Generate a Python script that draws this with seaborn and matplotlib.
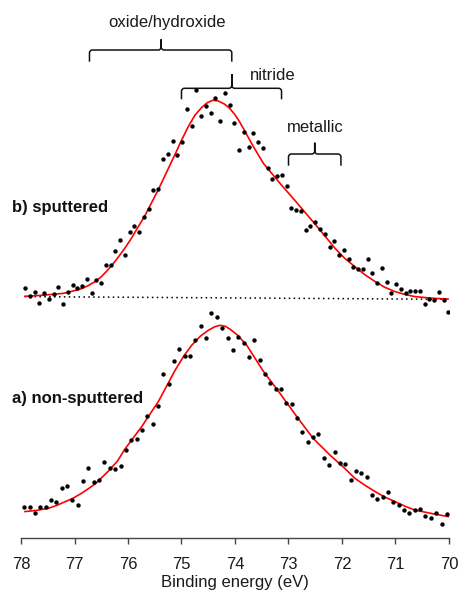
import numpy as np
import pandas as pd
import matplotlib
matplotlib.use("Agg")
import matplotlib.pyplot as plt
from matplotlib.path import Path
from matplotlib.patches import PathPatch
import seaborn as sns

# ---------------------------------------------------------------- data
# b) sputtered: acquisition grid and measured intensities (a.u.)
energy_b = np.linspace(77.925, 70.01, 90)
counts_b = [9.0, 1.3, 5.0, -5.3, 4.0, -1.3, 3.0, 10.0, -6.7, 5.0,
            12.0, 9.3, 11.3, 18.0, 4.0, 17.3, 14.3, 32.7, 32.7, 46.3,
            57.7, 42.3, 65.7, 71.7, 65.3, 80.7, 88.0, 107.3, 108.0, 138.3,
            143.3, 156.3, 142.3, 155.0, 188.0, 171.7, 207.3, 181.3, 191.0, 184.0,
            199.0, 176.7, 204.7, 192.0, 174.0, 147.3, 165.7, 150.3, 164.7, 155.7,
            149.3, 129.0, 118.7, 121.0, 122.3, 111.0, 89.0, 87.3, 86.7, 67.3,
            71.7, 75.7, 68.0, 63.7, 50.7, 56.7, 42.7, 47.0, 38.3, 30.0,
            28.3, 28.7, 38.3, 24.0, 14.3, 29.3, 15.0, 4.0, 13.0, 8.7,
            4.3, 6.7, 6.0, 6.0, -6.7, -2.0, -2.7, 5.0, -2.7, -14.4]

# b) fitted envelope
fit_energy_b = [77.93, 77.6, 77.2, 76.9, 76.75, 76.62, 76.5, 76.4, 76.24, 76.06,
                75.96, 75.68, 75.43, 75.12, 75.0, 74.87, 74.75, 74.62, 74.52, 74.42,
                74.32, 74.19, 74.1, 74.0, 73.92, 73.84, 73.66, 73.47, 73.16, 72.85,
                72.47, 72.13, 71.95, 71.76, 71.57, 71.38, 71.2, 71.01, 70.82, 70.64,
                70.3, 70.01]
fit_b = [1.0, 2.0, 4.0, 8.0, 11.5, 15.5, 20.5, 26.0, 36.0, 49.0,
         57.0, 82.0, 108.0, 143.0, 157.0, 171.0, 182.0, 190.0, 194.5, 197.0,
         196.5, 193.0, 189.0, 182.5, 176.0, 168.5, 151.0, 134.0, 114.0, 95.0,
         71.0, 49.0, 39.0, 30.7, 22.5, 15.7, 10.0, 5.7, 2.8, 0.7,
         -1.0, -1.7]

# b) linear background
bg_energy_b = [77.93, 70.01]
bg_b = [0.7, -2.0]

# a) non-sputtered: acquisition grid and measured intensities (a.u.)
energy_a = np.linspace(77.94, 70.04, 80)
counts_a = [6.0, 6.0, 0.0, 6.0, 6.7, 13.0, 11.0, 25.0, 27.0, 13.0,
            8.0, 32.0, 45.0, 31.0, 33.7, 51.3, 45.0, 44.0, 47.3, 63.7,
            73.3, 74.7, 83.7, 97.7, 89.7, 107.7, 139.3, 129.0, 152.3, 164.3,
            157.3, 157.3, 173.7, 187.0, 175.7, 200.0, 196.0, 185.3, 175.7, 163.3,
            176.3, 170.7, 156.3, 173.7, 153.3, 139.0, 130.0, 124.7, 124.0, 110.7,
            109.7, 95.7, 81.7, 71.7, 76.7, 79.7, 55.3, 48.3, 61.3, 50.7,
            49.3, 33.0, 42.0, 40.0, 36.3, 18.3, 14.0, 16.7, 21.0, 11.0,
            8.0, 3.3, 0.7, 3.0, 4.7, -2.3, -4.3, 0.3, -10.3, -1.0]

# a) fitted envelope
fit_energy_a = [77.93, 77.7, 77.49, 77.35, 77.2, 77.03, 76.87, 76.73, 76.6, 76.37,
                76.2, 76.06, 75.74, 75.43, 75.12, 74.96, 74.81, 74.65, 74.5, 74.38,
                74.28, 74.18, 74.09, 73.95, 73.78, 73.47, 73.16, 72.85, 72.54, 72.22,
                71.95, 71.76, 71.57, 71.38, 71.2, 71.01, 70.82, 70.64, 70.3, 70.01]
fit_a = [1.7, 3.0, 5.0, 7.5, 11.0, 15.0, 20.0, 25.0, 30.0, 42.0,
         52.0, 64.0, 87.0, 112.0, 143.0, 157.0, 168.0, 177.0, 183.0, 186.5,
         188.0, 187.0, 184.0, 178.0, 168.0, 142.0, 120.0, 97.0, 75.0, 58.0,
         45.0, 35.0, 28.0, 21.7, 16.2, 11.7, 7.0, 3.3, -0.5, -3.3]

# chemical-state regions: (label, high-BE end, low-BE end, centre)
regions = ["oxide/hydroxide", "nitride", "metallic"]
region_hi = [76.72, 75.00, 73.00]
region_lo = [74.06, 73.13, 72.02]
region_mid = [75.38, 74.06, 72.51]

xticks = [78, 77, 76, 75, 74, 73, 72, 71, 70]
spectrum_labels = ["b) sputtered", "a) non-sputtered"]

# ---------------------------------------------------------------- style
sns.set_theme(style="white")
plt.rcParams["font.family"] = ["Liberation Sans", "DejaVu Sans"]
plt.rcParams["font.size"] = 12

offset_b = 240.7
offset_a = 24.7

df_b = pd.DataFrame({"E": energy_b, "I": np.asarray(counts_b) + offset_b})
df_a = pd.DataFrame({"E": energy_a, "I": np.asarray(counts_a) + offset_a})
fit_df_b = pd.DataFrame({"E": fit_energy_b, "I": np.asarray(fit_b) + offset_b})
fit_df_a = pd.DataFrame({"E": fit_energy_a, "I": np.asarray(fit_a) + offset_a})
bg_df_b = pd.DataFrame({"E": bg_energy_b, "I": np.asarray(bg_b) + offset_b})

fig = plt.figure(figsize=(4.59, 6.04), dpi=100)
ax = fig.add_axes([21 / 459, 66 / 604, 428 / 459, 528 / 604])

sns.lineplot(data=bg_df_b, x="E", y="I", ax=ax, color="black", lw=1.1,
             linestyle=(0, (1, 2.2)), estimator=None, sort=False)
for fd in (fit_df_b, fit_df_a):
    sns.lineplot(data=fd, x="E", y="I", ax=ax, color="#ff0000", lw=1.2,
                 estimator=None, sort=False, zorder=2)
for d in (df_b, df_a):
    sns.scatterplot(data=d, x="E", y="I", ax=ax, color="black", s=10,
                    linewidth=0, zorder=3)

ax.set_xlim(78, 70)
ax.set_ylim(0, 528)
ax.set_xticks(xticks)
ax.set_xticklabels([str(t) for t in xticks])
ax.set_yticks([])
ax.set_ylabel("")
ax.set_xlabel("Binding energy (eV)", fontsize=12, color="#1a1a1a", labelpad=1.8)
for side in ("left", "top", "right"):
    ax.spines[side].set_visible(False)
ax.spines["bottom"].set_color("#444444")
ax.spines["bottom"].set_linewidth(1.0)
ax.tick_params(axis="x", direction="out", length=4, width=1.0, color="#444444",
               pad=10, labelsize=12, labelcolor="#1a1a1a", bottom=True)
ax.patch.set_alpha(0)


def brace(hi, lo, mid, y, depth, spike):
    """Horizontal curly bracket in data units (x axis runs high->low)."""
    rx, ry = 3.0 / 53.5, 3.0
    verts = [(hi, y - depth), (hi, y - ry), (hi, y), (hi - rx, y),
             (mid + rx, y), (mid, y), (mid, y + ry), (mid, y + spike),
             (mid, y + ry), (mid, y), (mid - rx, y),
             (lo + rx, y), (lo, y), (lo, y - ry), (lo, y - depth)]
    codes = [Path.MOVETO, Path.LINETO, Path.CURVE3, Path.CURVE3,
             Path.LINETO, Path.CURVE3, Path.CURVE3, Path.LINETO,
             Path.LINETO, Path.CURVE3, Path.CURVE3,
             Path.LINETO, Path.CURVE3, Path.CURVE3, Path.LINETO]
    ax.add_patch(PathPatch(Path(verts, codes), fill=False, lw=1.1,
                           edgecolor="#111111", clip_on=False))


brace_y = [488.0, 449.7, 384.0]
brace_depth = [11.7, 11.0, 11.7]
brace_spike = [10.7, 14.3, 11.3]
for hi, lo, mid, yb, dp, sp in zip(region_hi, region_lo, region_mid,
                                   brace_y, brace_depth, brace_spike):
    brace(hi, lo, mid, yb, dp, sp)

label_pos = [(75.27, 515.3), (73.30, 462.0), (72.50, 410.0)]
for text, (xt, yt) in zip(regions, label_pos):
    ax.text(xt, yt, text, ha="center", va="center", fontsize=12,
            color="#1a1a1a")

ax.text(78.17, 330.3, spectrum_labels[0], ha="left", va="center",
        fontsize=12, fontweight="bold", color="#111111", clip_on=False)
ax.text(78.17, 140.0, spectrum_labels[1], ha="left", va="center",
        fontsize=12, fontweight="bold", color="#111111", clip_on=False)

fig.savefig("out.png", dpi=100, facecolor="white")
